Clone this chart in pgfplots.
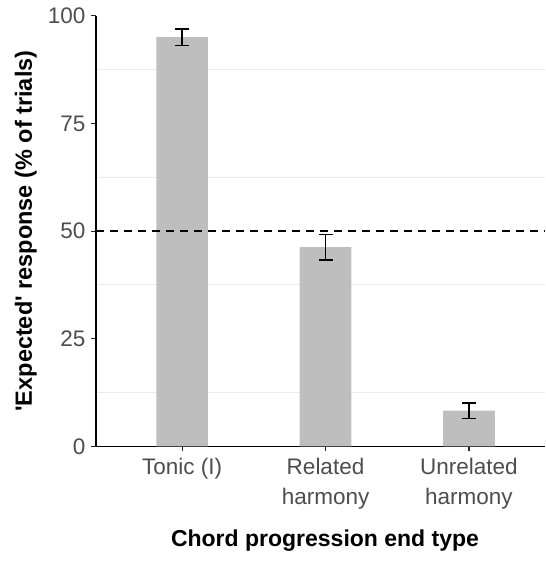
\documentclass[border=0pt]{standalone}
\usepackage{fontspec}
\setmainfont{Liberation Sans}
\usepackage{pgfplots}
\pgfplotsset{compat=1.18}
\definecolor{barfill}{HTML}{BEBEBE}
\definecolor{ticktext}{HTML}{4D4D4D}
\definecolor{gridc}{HTML}{EBEBEB}
\begin{document}
\begin{tikzpicture}
\begin{axis}[
  at={(96pt,114.5pt)}, anchor=south west,
  scale only axis, width=449pt, height=430.8pt,
  xmin=0.4, xmax=3.53, ymin=0, ymax=100,
  axis x line*=bottom, axis y line*=left,
  axis line style={-, line width=1.3pt, black},
  xtick={1,2,3},
  xticklabels={Tonic (I), Related\\harmony, Unrelated\\harmony},
  ytick={0,25,50,75,100},
  minor ytick={12.5,37.5,62.5,87.5},
  yminorgrids=true, ymajorgrids=false,
  minor grid style={gridc, line width=1pt},
  minor tick length=0pt,
  major tick length=5pt,
  tick style={line width=1.1pt, black!85},
  tick align=outside,
  /pgf/number format/assume math mode=true,
  yticklabel style={font=\fontsize{22.5}{27}\selectfont, text=ticktext, xshift=-2pt},
  xticklabel style={font=\fontsize{22.5}{30}\selectfont, text=ticktext, align=center, yshift=-3pt},
  xlabel={Chord progression end type},
  ylabel={\textquotesingle Expected\textquotesingle{} response (\% of trials)},
  xlabel style={font=\fontsize{23}{27}\selectfont\bfseries, at={(axis description cs:0.51,0)}, anchor=base, yshift=-99.5pt},
  every axis y label/.style={font=\fontsize{23.5}{27}\selectfont\bfseries, at={(axis description cs:0,0.5)}, anchor=base, rotate=90, yshift=64pt},
  clip=false,
]
\addplot[ybar, bar width=0.36, fill=barfill, draw=none,
  error bars/.cd, y dir=both, y explicit,
  error bar style={line width=1.2pt, black},
  error mark options={rotate=90, mark size=7pt, line width=1.2pt, black}]
  coordinates {(1,95.0) +- (0,1.9) (2,46.3) +- (0,3.0) (3,8.3) +- (0,1.8)};
\addplot[black, line width=1.4pt, dash pattern=on 8pt off 6pt, forget plot]
  coordinates {(0.4,50) (3.53,50)};
\end{axis}
\pgfresetboundingbox
\path[use as bounding box] (0,0) rectangle (545pt,561pt);
\end{tikzpicture}
\end{document}
